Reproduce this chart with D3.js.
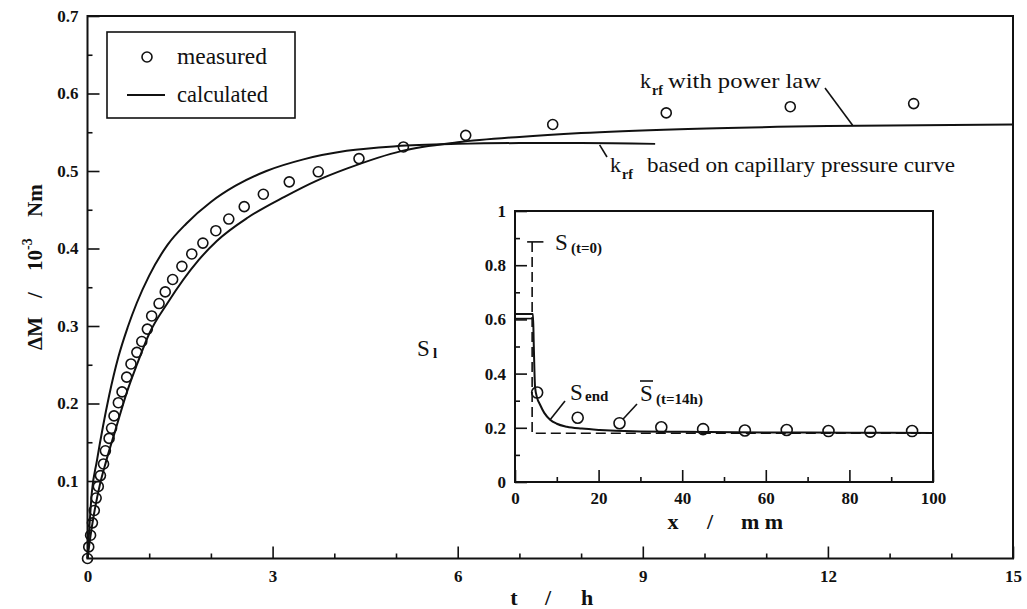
<!DOCTYPE html>
<html><head><meta charset="utf-8">
<script src="https://cdn.jsdelivr.net/npm/d3@7"></script>
</head><body style="margin:0;background:#fff">
<svg id="c" width="1027" height="609" style="display:block;font-family:'Liberation Serif'"></svg>
<script>
// ---------- data ----------
const measT = [0,0.02,0.05,0.08,0.11,0.14,0.175,0.21,0.26,0.29,0.35,0.39,0.43,0.5,0.56,0.635,0.705,0.80,0.88,0.97,1.04,1.16,1.26,1.38,1.53,1.69,1.87,2.08,2.29,2.54,2.85,3.27,3.74,4.40,5.12,6.13,7.54,9.38,11.39,13.39];
const measV = [0,0.015,0.03,0.046,0.062,0.078,0.093,0.107,0.122,0.139,0.155,0.168,0.184,0.201,0.215,0.234,0.251,0.266,0.28,0.296,0.313,0.329,0.344,0.360,0.377,0.393,0.407,0.423,0.438,0.454,0.470,0.486,0.499,0.516,0.531,0.546,0.560,0.575,0.583,0.587];

const capT = [0,0.03,0.07,0.15,0.25,0.35,0.5,0.65,0.8,1.0,1.3,1.6,2.0,2.4,2.9,3.5,4.2,5.0,6.0,7.0,8.0,9.2];
const capV = [0,0.04,0.085,0.125,0.17,0.21,0.26,0.298,0.33,0.365,0.405,0.432,0.46,0.481,0.5,0.515,0.526,0.532,0.535,0.536,0.536,0.535];

const powT = [0,0.05,0.1,0.2,0.3,0.45,0.64,0.8,1.0,1.3,1.8,2.1,2.6,3.2,3.7,4.2,5.1,6.0,7.0,8.0,9.6,12.0,15.0];
const powV = [0,0.03,0.055,0.095,0.125,0.165,0.215,0.25,0.29,0.33,0.385,0.41,0.44,0.467,0.487,0.503,0.526,0.537,0.544,0.549,0.554,0.558,0.56];

const xTicks = [0,3,6,9,12,15];
const yTicks = [0.1,0.2,0.3,0.4,0.5,0.6,0.7];

// inset
const insMeasX = [5.3,15,25,35,45,55,65,75,85,95];
const insMeasS = [0.33,0.237,0.217,0.202,0.195,0.19,0.192,0.188,0.186,0.188];
const sEndX = [0,4.3,4.5,4.8,5.3,6.0,7.0,8.4,10,12.4,16,20.3,28.2,40,60,80,100];
const sEndS = [0.62,0.62,0.5,0.35,0.31,0.285,0.255,0.23,0.215,0.204,0.197,0.192,0.187,0.185,0.183,0.182,0.181];
const sInitX = [4.1,4.1,100];
const sInitS = [0.886,0.18,0.18];
const sInitLeftX = [0,4.1];
const sInitLeftS = [0.603,0.603];
const insXTicks = [0,20,40,60,80,100];
const insYTicks = [0,0.2,0.4,0.6,0.8,1];

// ---------- drawing ----------
const FONT = "'Liberation Serif'";
const svg = d3.select("#c");
const ink = "#111";
const x = d3.scaleLinear().domain([0,15]).range([87.5,1013]);
const y = d3.scaleLinear().domain([0,0.7]).range([558.5,16]);
const ix = d3.scaleLinear().domain([0,100]).range([515,933]);
const iy = d3.scaleLinear().domain([0,1]).range([482,211]);

function styleAxis(g, size){
  g.attr("font-family",FONT).style("font-family",FONT);
  g.select(".domain").remove();
  g.selectAll(".tick line").attr("stroke",ink).attr("stroke-width",1.6);
  g.selectAll(".tick text").attr("font-size",size).attr("font-weight","bold")
   .attr("font-family",FONT).style("font-family",FONT).attr("fill",ink);
}
function T(sel){ return sel.append("text").attr("font-family",FONT).style("font-family",FONT).attr("fill",ink); }

// main minor ticks
const xMinor = d3.range(0,15.01,1).filter(v=>v%3!==0);
const yMinor = d3.range(0.05,0.7,0.1);
svg.append("g").attr("transform",`translate(0,${y(0)})`)
  .call(d3.axisBottom(x).tickValues(xMinor).tickSize(-5).tickFormat(""))
  .call(g=>styleAxis(g,17));
svg.append("g").attr("transform",`translate(${x(0)},0)`)
  .call(d3.axisLeft(y).tickValues(yMinor).tickSize(-5).tickFormat(""))
  .call(g=>styleAxis(g,17));
// main major
svg.append("g").attr("transform",`translate(0,${y(0)})`)
  .call(d3.axisBottom(x).tickValues(xTicks).tickSize(-12).tickPadding(11).tickFormat(d3.format("d")))
  .call(g=>styleAxis(g,17));
svg.append("g").attr("transform",`translate(${x(0)},0)`)
  .call(d3.axisLeft(y).tickValues(yTicks).tickSize(-12).tickPadding(9).tickFormat(d3.format(".1f")))
  .call(g=>styleAxis(g,17));

// frame
svg.append("rect").attr("x",x(0)).attr("y",y(0.7)).attr("width",x(15)-x(0)).attr("height",y(0)-y(0.7))
  .attr("fill","none").attr("stroke",ink).attr("stroke-width",2);

// curves
const line = d3.line().x(d=>x(d[0])).y(d=>y(d[1])).curve(d3.curveMonotoneX);
svg.append("path").attr("d",line(capT.map((t,i)=>[t,capV[i]])))
  .attr("fill","none").attr("stroke",ink).attr("stroke-width",2);
svg.append("path").attr("d",line(powT.map((t,i)=>[t,powV[i]])))
  .attr("fill","none").attr("stroke",ink).attr("stroke-width",2);

// measured
svg.append("g").selectAll("circle").data(measT.map((t,i)=>[t,measV[i]])).join("circle")
  .attr("cx",d=>x(d[0])).attr("cy",d=>y(d[1])).attr("r",5)
  .attr("fill","none").attr("stroke",ink).attr("stroke-width",1.6);

// legend
svg.append("rect").attr("x",107).attr("y",32).attr("width",188).attr("height",86)
  .attr("fill","#fff").attr("stroke",ink).attr("stroke-width",1.6);
svg.append("circle").attr("cx",147).attr("cy",57).attr("r",5).attr("fill","none").attr("stroke",ink).attr("stroke-width",1.6);
T(svg).attr("x",177).attr("y",64).attr("font-size",23).attr("textLength",90).attr("lengthAdjust","spacingAndGlyphs").text("measured");
svg.append("line").attr("x1",127).attr("x2",165).attr("y1",95).attr("y2",95).attr("stroke",ink).attr("stroke-width",2);
T(svg).attr("x",177).attr("y",102).attr("font-size",23).attr("textLength",91).attr("lengthAdjust","spacingAndGlyphs").text("calculated");

// annotations
function krf(xk, yb, rest, restX, restLen){
  T(svg).attr("x",xk).attr("y",yb).attr("font-size",22).text("k");
  T(svg).attr("x",xk+12).attr("y",yb+7).attr("font-size",14).attr("font-weight","bold").text("rf");
  T(svg).attr("x",restX).attr("y",yb).attr("font-size",22)
    .attr("textLength",restLen).attr("lengthAdjust","spacingAndGlyphs").text(rest);
}
krf(640,88,"with power law",668,153);
krf(610,172,"based on capillary pressure curve",647,308);
svg.append("line").attr("x1",825).attr("y1",88).attr("x2",x(12.4)).attr("y2",y(0.559)).attr("stroke",ink).attr("stroke-width",1.6);
svg.append("line").attr("x1",x(8.3)).attr("y1",y(0.535)+1).attr("x2",607).attr("y2",157).attr("stroke",ink).attr("stroke-width",1.6);

// axis titles
[["t",514],["/",548],["h",587]].forEach(([s,cx])=>{
  T(svg).attr("x",cx).attr("y",605).attr("text-anchor","middle").attr("font-size",22).attr("font-weight","bold").text(s);
});
const yt = svg.append("g").attr("transform","translate(42,350) rotate(-90)");
[["ΔM",0,21],["/",52,21],["10",79,21],["-3",100,14,-10],["Nm",133,21]].forEach(([s,px,fs,dy])=>{
  T(yt).attr("x",px).attr("y",dy||0).attr("font-size",fs).attr("font-weight","bold").text(s);
});

// ---------- inset ----------
const inset = svg.append("g");
inset.append("rect").attr("x",ix(0)).attr("y",iy(1)).attr("width",ix(100)-ix(0)).attr("height",iy(0)-iy(1)).attr("fill","#fff");
inset.append("g").attr("transform",`translate(0,${iy(0)})`)
  .call(d3.axisBottom(ix).tickValues(d3.range(10,100,20)).tickSize(-5).tickFormat(""))
  .call(g=>styleAxis(g,17));
inset.append("g").attr("transform",`translate(${ix(0)},0)`)
  .call(d3.axisLeft(iy).tickValues(d3.range(0.1,1,0.2)).tickSize(-5).tickFormat(""))
  .call(g=>styleAxis(g,17));
inset.append("g").attr("transform",`translate(0,${iy(0)})`)
  .call(d3.axisBottom(ix).tickValues(insXTicks).tickSize(-12).tickPadding(10).tickFormat(d3.format("d")))
  .call(g=>styleAxis(g,17));
inset.append("g").attr("transform",`translate(${ix(0)},0)`)
  .call(d3.axisLeft(iy).tickValues(insYTicks).tickSize(-12).tickPadding(9).tickFormat(d3.format("~g")))
  .call(g=>styleAxis(g,17));
inset.append("rect").attr("x",ix(0)).attr("y",iy(1)).attr("width",ix(100)-ix(0)).attr("height",iy(0)-iy(1))
  .attr("fill","none").attr("stroke",ink).attr("stroke-width",2);

const iline = d3.line().x(d=>ix(d[0])).y(d=>iy(d[1]));
inset.append("path").attr("d",iline(sInitX.map((v,i)=>[v,sInitS[i]])))
  .attr("fill","none").attr("stroke",ink).attr("stroke-width",1.6).attr("stroke-dasharray","10,5");
inset.append("path").attr("d",iline(sInitLeftX.map((v,i)=>[v,sInitLeftS[i]])))
  .attr("fill","none").attr("stroke",ink).attr("stroke-width",1.6);
inset.append("path").attr("d",iline.curve(d3.curveMonotoneX)(sEndX.map((v,i)=>[v,sEndS[i]])))
  .attr("fill","none").attr("stroke",ink).attr("stroke-width",2);
inset.append("line").attr("x1",ix(2.9)).attr("x2",ix(6.8)).attr("y1",iy(0.886)).attr("y2",iy(0.886)).attr("stroke",ink).attr("stroke-width",1.6);
inset.append("g").selectAll("circle").data(insMeasX.map((v,i)=>[v,insMeasS[i]])).join("circle")
  .attr("cx",d=>ix(d[0])).attr("cy",d=>iy(d[1])).attr("r",5.5)
  .attr("fill","none").attr("stroke",ink).attr("stroke-width",1.6);

// inset labels
T(inset).attr("x",555).attr("y",250).attr("font-size",23).text("S");
T(inset).attr("x",571).attr("y",253).attr("font-size",15).attr("font-weight","bold").text("(t=0)");
T(inset).attr("x",570).attr("y",400).attr("font-size",23).text("S");
T(inset).attr("x",585).attr("y",401).attr("font-size",15).attr("font-weight","bold").text("end");
inset.append("line").attr("x1",ix(8.4)).attr("y1",iy(0.23)).attr("x2",565).attr("y2",401).attr("stroke",ink).attr("stroke-width",1.6);
T(inset).attr("x",640).attr("y",401).attr("font-size",23).text("S");
inset.append("line").attr("x1",640).attr("x2",653).attr("y1",381).attr("y2",381).attr("stroke",ink).attr("stroke-width",1.6);
T(inset).attr("x",656).attr("y",404).attr("font-size",15).attr("font-weight","bold").text("(t=14h)");
inset.append("line").attr("x1",ix(25.1)+3).attr("y1",iy(0.217)-4).attr("x2",637).attr("y2",404).attr("stroke",ink).attr("stroke-width",1.6);
T(inset).attr("x",417).attr("y",356).attr("font-size",23).text("S");
T(inset).attr("x",433).attr("y",358).attr("font-size",15).attr("font-weight","bold").text("l");
[["x",673],["/",710],["m m",762]].forEach(([s,cx])=>{
  T(inset).attr("x",cx).attr("y",529).attr("text-anchor","middle").attr("font-size",22).attr("font-weight","bold").text(s);
});
</script>
</body></html>
